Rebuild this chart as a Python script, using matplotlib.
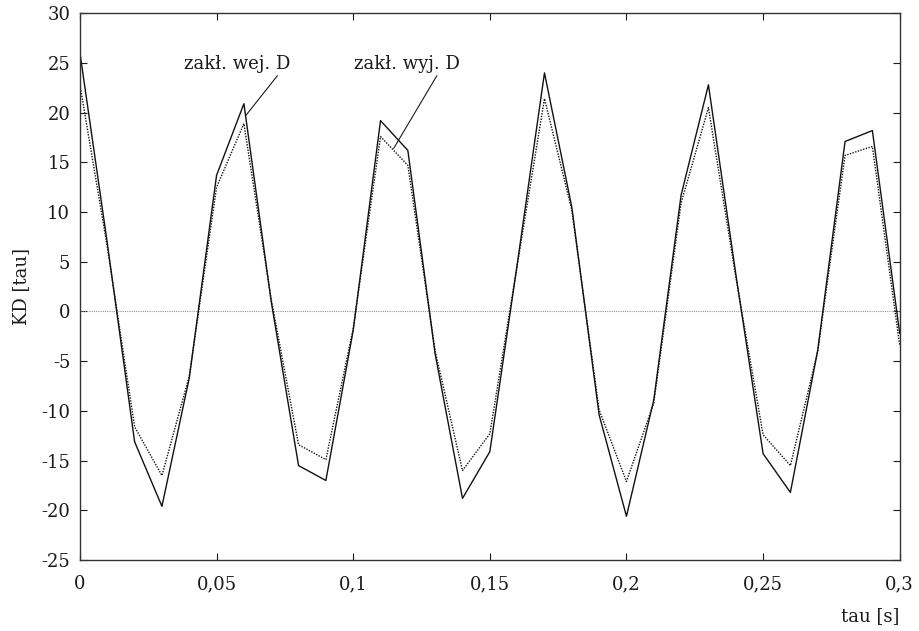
import matplotlib
matplotlib.use("Agg")
import matplotlib.pyplot as plt
from matplotlib.ticker import FuncFormatter

# time axis [s], step 0.01
tau = [0.00, 0.01, 0.02, 0.03, 0.04, 0.05, 0.06, 0.07, 0.08, 0.09,
       0.10, 0.11, 0.12, 0.13, 0.14, 0.15, 0.16, 0.17, 0.18, 0.19,
       0.20, 0.21, 0.22, 0.23, 0.24, 0.25, 0.26, 0.27, 0.28, 0.29, 0.30]

# zakl. wej. D (solid)
kd_wej = [26.0, 6.9, -13.1, -19.6, -6.7, 13.7, 20.9, 1.0, -15.5, -17.0,
          -1.9, 19.2, 16.2, -4.3, -18.8, -14.1, 4.7, 24.0, 10.5, -10.4,
          -20.6, -8.9, 11.7, 22.8, 3.8, -14.3, -18.2, -3.9, 17.1, 18.2, -2.2]

# zakl. wyj. D (dotted)
kd_wyj = [22.8, 6.5, -11.6, -16.5, -6.5, 12.5, 18.9, 1.2, -13.4, -14.9,
          -1.7, 17.6, 14.7, -4.0, -16.0, -12.3, 4.6, 21.4, 10.2, -9.9,
          -17.1, -9.2, 10.9, 20.5, 3.5, -12.4, -15.5, -4.0, 15.7, 16.6, -3.4]

xticks = [0, 0.05, 0.1, 0.15, 0.2, 0.25, 0.3]
yticks = list(range(-25, 31, 5))

plt.rcParams['font.family'] = ['DejaVu Serif']

fig = plt.figure(figsize=(9.19, 6.31), dpi=100)
ax = fig.add_axes([0.087, 0.1125, 0.892, 0.8665])

ax.axhline(0, color='#999999', lw=0.8, linestyle=(0, (1, 1)))
ax.plot(tau, kd_wej, color='#111111', lw=1.0)
ax.plot(tau, kd_wyj, color='#111111', lw=1.0, linestyle=(0, (1, 1)))

ax.set_xlim(0, 0.3)
ax.set_ylim(-25, 30)
ax.set_xticks(xticks)
ax.set_yticks(yticks)

def comma(v, pos):
    s = ('%g' % v).replace('.', ',')
    return s

ax.xaxis.set_major_formatter(FuncFormatter(comma))
ax.yaxis.set_major_formatter(FuncFormatter(lambda v, p: '%d' % v))
ax.tick_params(direction='in', length=5, width=0.8, top=True, right=True,
               labelsize=13, colors='#1a1a1a', pad=7)
ax.tick_params(axis='x', pad=11)
for s in ax.spines.values():
    s.set_color('#333333')
    s.set_linewidth(1.0)

ax.set_ylabel('KD [tau]', fontsize=13, color='#1a1a1a', labelpad=8)
fig.text(0.979, 0.01, 'tau [s]', ha='right', va='bottom', fontsize=13, color='#1a1a1a')

ax.annotate('zakł. wej. D', xy=(0.0608, 19.75), xytext=(0.0575, 24.0),
            ha='center', va='bottom', fontsize=13, color='#1a1a1a',
            arrowprops=dict(arrowstyle='-', color='#1a1a1a', lw=0.8,
                            shrinkA=0, shrinkB=0,
                            relpos=(0.9, 0.0)))
ax.annotate('zakł. wyj. D', xy=(0.1148, 16.4), xytext=(0.1196, 24.0),
            ha='center', va='bottom', fontsize=13, color='#1a1a1a',
            arrowprops=dict(arrowstyle='-', color='#1a1a1a', lw=0.8,
                            shrinkA=0, shrinkB=0,
                            relpos=(0.8, 0.0)))

fig.savefig('out.png', dpi=100)
